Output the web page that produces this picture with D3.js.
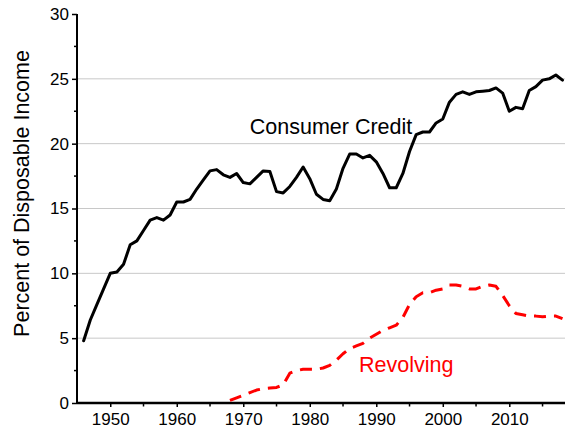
<!DOCTYPE html>
<html>
<head>
<meta charset="utf-8">
<script src="https://cdn.jsdelivr.net/npm/d3@7"></script>
<style>
  html, body { margin: 0; padding: 0; background: #fff; }
  svg { display: block; }
  text { font-family: "Liberation Sans", Arial, sans-serif; }
</style>
</head>
<body>
<svg id="chart" width="565" height="437"></svg>
<script>
const creditYears = d3.range(1946, 2019);
const creditValues = [
  4.8, 6.4, 7.6, 8.8, 10.0, 10.1, 10.7, 12.2, 12.5, 13.3,
  14.1, 14.3, 14.1, 14.5, 15.5, 15.5, 15.7, 16.5, 17.2, 17.9,
  18.0, 17.6, 17.4, 17.7, 17.0, 16.9, 17.4, 17.9, 17.85, 16.3,
  16.2, 16.7, 17.4, 18.2, 17.3, 16.1, 15.7, 15.6, 16.5, 18.1,
  19.2, 19.2, 18.9, 19.1, 18.6, 17.7, 16.6, 16.6, 17.7, 19.4,
  20.7, 20.9, 20.9, 21.6, 21.9, 23.2, 23.8, 24.0, 23.8, 24.0,
  24.05, 24.1, 24.3, 23.9, 22.5, 22.8, 22.7, 24.1, 24.4, 24.9,
  25.0, 25.3, 24.9
];
const revolvingYears = d3.range(1968, 2019);
const revolvingValues = [
  0.2, 0.4, 0.6, 0.8, 1.0, 1.1, 1.15, 1.2, 1.4, 2.3,
  2.5, 2.6, 2.6, 2.6, 2.7, 2.9, 3.3, 3.8, 4.2, 4.4,
  4.6, 5.0, 5.3, 5.6, 5.8, 6.0, 6.6, 7.6, 8.2, 8.5,
  8.5, 8.7, 8.8, 9.1, 9.1, 9.0, 8.8, 8.8, 9.0, 9.1,
  9.0, 8.3, 7.5, 6.9, 6.8, 6.7, 6.7, 6.65, 6.7, 6.7,
  6.5
];
const xTickValues = [1950, 1960, 1970, 1980, 1990, 2000, 2010];
const xMinorTicks = [1955, 1965, 1975, 1985, 1995, 2005, 2015];
const yTickValues = [0, 5, 10, 15, 20, 25, 30];
const yMinorTicks = [2.5, 7.5, 12.5, 17.5, 22.5, 27.5];
const gridValues = [5, 10, 15, 20, 25];
const yAxisTitle = "Percent of Disposable Income";
const creditLabel = "Consumer Credit";
const revolvingLabel = "Revolving";

const svg = d3.select("#chart");
const x = d3.scaleLinear().domain([1945, 2020]).range([77, 575.8]);
const y = d3.scaleLinear().domain([0, 30]).range([403, 14]);

// gridlines
svg.append("g").selectAll("line").data(gridValues).join("line")
  .attr("x1", x(1945)).attr("x2", 565)
  .attr("y1", d => y(d)).attr("y2", d => y(d))
  .attr("stroke", "#c8c8c8").attr("stroke-width", 1);

// y axis
const yAxis = svg.append("g").attr("transform", `translate(${x(1945)},0)`)
  .call(d3.axisLeft(y).tickValues(yTickValues).tickSize(5).tickPadding(3).tickFormat(d3.format("d")));
yAxis.select(".domain").attr("stroke", "#000").attr("stroke-width", 2).attr("d", `M0,${y(30)}V${y(0)}`);
yAxis.selectAll(".tick line").attr("stroke", "#000").attr("stroke-width", 1.5);
yAxis.selectAll(".tick text").attr("font-size", 17).attr("fill", "#000")
  .attr("font-family", "Liberation Sans, Arial, sans-serif");
yAxis.append("g").selectAll("line").data(yMinorTicks).join("line")
  .attr("x1", -3).attr("x2", 0).attr("y1", d => y(d)).attr("y2", d => y(d))
  .attr("stroke", "#000").attr("stroke-width", 1.5);

// x axis
const xAxis = svg.append("g").attr("transform", `translate(0,${y(0)})`)
  .call(d3.axisBottom(x).tickValues(xTickValues).tickSize(4).tickPadding(6).tickFormat(d3.format("d")));
xAxis.select(".domain").attr("stroke", "#000").attr("stroke-width", 2.5).attr("d", `M${x(1945)},0H565`);
xAxis.selectAll(".tick line").attr("stroke", "#000").attr("stroke-width", 1.5);
xAxis.selectAll(".tick text").attr("font-size", 17).attr("fill", "#000")
  .attr("font-family", "Liberation Sans, Arial, sans-serif");
xAxis.append("g").selectAll("line").data(xMinorTicks).join("line")
  .attr("x1", d => x(d)).attr("x2", d => x(d)).attr("y1", 0).attr("y2", 3.5)
  .attr("stroke", "#000").attr("stroke-width", 1.5);

// lines
const line = d3.line().x(d => x(d[0])).y(d => y(d[1]));
svg.append("path")
  .datum(creditYears.map((yr, i) => [yr, creditValues[i]]))
  .attr("d", line).attr("fill", "none").attr("stroke", "#000")
  .attr("stroke-width", 3).attr("stroke-linejoin", "round").attr("stroke-linecap", "round");
svg.append("path")
  .datum(revolvingYears.map((yr, i) => [yr, revolvingValues[i]]))
  .attr("d", line).attr("fill", "none").attr("stroke", "#ff0000")
  .attr("stroke-width", 3).attr("stroke-dasharray", "12,8").attr("stroke-linejoin", "round");

// labels
svg.append("text").attr("x", 331).attr("y", 134).attr("text-anchor", "middle")
  .attr("font-size", 21.5).attr("fill", "#000").text(creditLabel);
svg.append("text").attr("x", 359).attr("y", 372).attr("text-anchor", "start")
  .attr("font-size", 21.5).attr("fill", "#ff0000").text(revolvingLabel);
svg.append("text").attr("transform", "translate(29,193.5) rotate(-90)")
  .attr("text-anchor", "middle").attr("font-size", 21.5).attr("fill", "#000").text(yAxisTitle);
</script>
</body>
</html>
